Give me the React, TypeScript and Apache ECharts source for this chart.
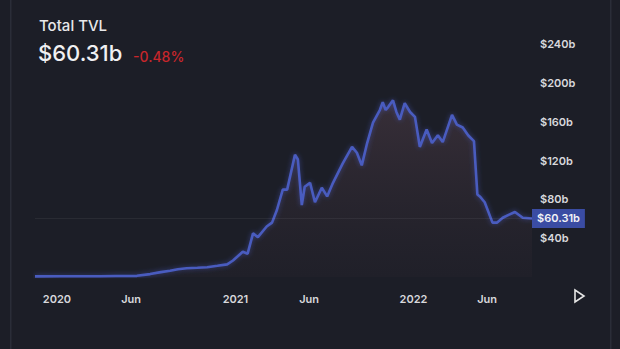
import React, { useEffect, useRef } from "react";
import * as echarts from "echarts";

const dates: string[] = [
  "2019-11-17", "2020-01-07", "2020-02-15", "2020-03-29", "2020-05-01", "2020-06-13", "2020-07-10",
  "2020-08-01", "2020-08-20", "2020-09-05", "2020-09-23", "2020-10-15", "2020-11-04", "2020-11-25",
  "2020-12-15", "2020-12-27", "2021-01-16", "2021-01-26", "2021-02-06", "2021-02-16", "2021-03-06", "2021-03-17",
  "2021-03-27", "2021-04-08", "2021-04-17", "2021-05-03", "2021-05-09", "2021-05-17", "2021-05-23",
  "2021-06-03", "2021-06-13", "2021-06-27", "2021-07-08", "2021-07-20", "2021-08-09", "2021-08-28",
  "2021-09-07", "2021-09-17", "2021-09-28", "2021-10-10", "2021-10-24", "2021-10-30", "2021-11-05", "2021-11-10",
  "2021-11-20", "2021-11-27", "2021-12-04", "2021-12-14", "2021-12-25", "2022-01-04", "2022-01-14", "2022-01-28",
  "2022-02-08", "2022-02-20", "2022-03-02", "2022-03-21", "2022-03-31", "2022-04-12", "2022-04-23",
  "2022-05-05", "2022-05-12", "2022-05-17", "2022-05-27", "2022-06-12", "2022-06-21", "2022-07-03",
  "2022-07-15", "2022-07-28", "2022-08-13", "2022-09-01",
];

const tvl: number[] = [
  0.6, 0.7, 0.8, 0.8, 1.0, 1.2, 3.0,
  5.0, 6.5, 8.0, 9.0, 9.5, 10.0, 11.5,
  13.0, 17.0, 26.0, 24.0, 45.0, 41.0, 52.0, 56.0,
  69.0, 90.0, 90.0, 126.0, 121.0, 74.0, 93.0,
  97.0, 77.0, 92.0, 83.0, 97.0, 117.0, 134.0,
  128.0, 115.0, 138.0, 159.0, 172.0, 180.0, 172.0, 175.0,
  182.0, 170.0, 162.0, 179.0, 170.0, 165.0, 134.0, 152.0,
  138.0, 146.0, 139.0, 167.0, 157.0, 154.0, 146.0,
  140.0, 85.0, 83.0, 77.0, 56.0, 56.0, 61.0,
  64.0, 67.0, 61.0, 60.31,
];

const xLabelDates: string[] = ["2020-01-01", "2020-06-01", "2021-01-01", "2021-06-01", "2022-01-01", "2022-06-01"];
const xLabelTexts: string[] = ["2020", "Jun", "2021", "Jun", "2022", "Jun"];
const yTicks: number[] = [0, 40, 80, 120, 160, 200, 240];
const currentValue = 60.31;
const changePct = "-0.48%";

const ts = (d: string) => Date.parse(d + "T00:00:00Z");

export default function App() {
  const ref = useRef<HTMLDivElement>(null);

  useEffect(() => {
    document.body.style.margin = "0";
    document.body.style.background = "#1c1e27";
    const chart = echarts.init(ref.current!, undefined, { renderer: "svg" });
    const data = dates.map((d, i) => [ts(d), tvl[i]]);
    const labelTs = xLabelDates.map(ts);
    const font = "Inter, 'Noto Sans', sans-serif";
    chart.setOption({
      animation: false,
      backgroundColor: "#1c1e27",
      textStyle: { fontFamily: font },
      grid: { left: 35, right: 88, top: 44, bottom: 72 },
      graphic: [
        { type: "rect", shape: { x: 10, y: 0, width: 1.5, height: 349 }, style: { fill: "#2a2d38" } },
        { type: "rect", shape: { x: 610, y: 0, width: 1.5, height: 349 }, style: { fill: "#2a2d38" } },
        {
          type: "text", left: 39, top: 18,
          style: { text: "Total TVL", fill: "#e8e8ea", font: `500 15px ${font}` },
        },
        {
          type: "text", left: 38, top: 42,
          style: { text: "$" + currentValue.toFixed(2) + "b", fill: "#f0f0f2", font: `500 22px ${font}` },
        },
        {
          type: "text", left: 133, top: 49,
          style: { text: changePct, fill: "#c8262b", font: `500 14px ${font}` },
        },
        {
          type: "polygon",
          shape: { points: [[575, 290], [575, 302], [584, 296]] },
          style: { fill: "none", stroke: "#e6e6e6", lineWidth: 1.6 },
        },
      ],
      xAxis: {
        type: "value",
        min: ts(dates[0]),
        max: ts(dates[dates.length - 1]),
        axisLine: { show: false },
        axisTick: { show: false },
        splitLine: { show: false },
        axisLabel: {
          customValues: labelTs,
          color: "#d8d8dc",
          fontSize: 11,
          fontWeight: 600,
          margin: 16,
          formatter: (v: number) => {
            const i = labelTs.indexOf(v);
            return i >= 0 ? xLabelTexts[i] : "";
          },
        },
      },
      yAxis: {
        type: "value",
        position: "right",
        min: 0,
        max: yTicks[yTicks.length - 1],
        interval: 40,
        axisLine: { show: false },
        axisTick: { show: false },
        splitLine: { show: false },
        axisLabel: {
          color: "#d8d8dc",
          fontSize: 11,
          fontWeight: 600,
          margin: 8,
          formatter: (v: number) => (v === 0 ? "" : "$" + v + "b"),
        },
      },
      series: [
        {
          type: "line",
          data,
          symbol: "none",
          smooth: false,
          lineStyle: {
            color: "#4a5bbf",
            width: 2.6,
            shadowColor: "rgba(80,100,220,0.5)",
            shadowBlur: 5,
          },
          areaStyle: {
            color: new echarts.graphic.LinearGradient(0, 0, 0, 1, [
              { offset: 0, color: "rgba(78,60,70,0.8)" },
              { offset: 1, color: "rgba(42,37,46,0.4)" },
            ]),
          },
          markLine: {
            silent: true,
            symbol: "none",
            lineStyle: { color: "rgba(255,255,255,0.06)", type: "solid", width: 1 },
            data: [{ yAxis: currentValue }],
            label: {
              show: true,
              position: "end",
              distance: 0,
              formatter: "$" + currentValue.toFixed(2) + "b",
              backgroundColor: "#3a4ca3",
              color: "#f2f2f6",
              fontSize: 11,
              fontWeight: 600,
              padding: [4, 5, 4, 5],
            },
          },
        },
      ],
    });
    return () => chart.dispose();
  }, []);

  return <div ref={ref} style={{ width: 620, height: 349, background: "#1c1e27" }} />;
}
